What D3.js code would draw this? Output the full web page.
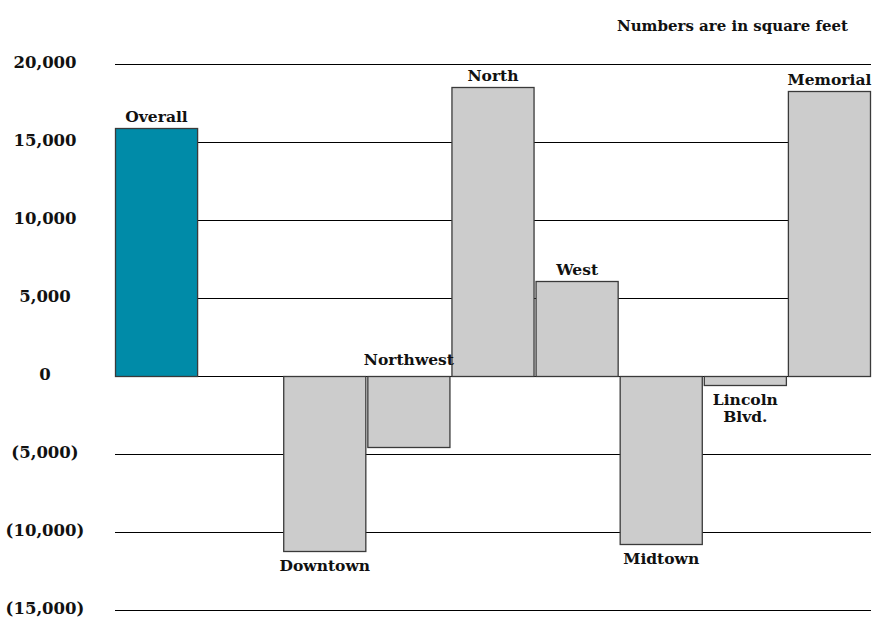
<!DOCTYPE html>
<html>
<head>
<meta charset="utf-8">
<script src="https://cdn.jsdelivr.net/npm/d3@7"></script>
<style>
  body { margin: 0; background: #fff; }
  text { font-family: "DejaVu Serif", serif; font-weight: bold; fill: #111; }
</style>
</head>
<body>
<div id="canvas"></div>
<script>
// data (square feet)
const categories = ["Overall", "Downtown", "Northwest", "North", "West", "Midtown", "Lincoln Blvd.", "Memorial"];
const values = [15900, -11200, -4550, 18500, 6100, -10750, -550, 18250];
const labelSide = ["top", "bottom", "zero", "top", "top", "bottom", "bottom", "top"];
const tickValues = [-15000, -10000, -5000, 0, 5000, 10000, 15000, 20000];

const width = 880;
const height = 617;

const svg = d3.select("#canvas").append("svg")
  .attr("width", width)
  .attr("height", height);

// one empty slot after "Overall"
const slots = [categories[0], "_gap", ...categories.slice(1)];

const x = d3.scaleBand().domain(slots).range([115, 871]).paddingInner(0.012).paddingOuter(0);
const y = d3.scaleLinear().domain([-15000, 20000]).range([610, 64]);

const fmt = (v) => (v < 0 ? `(${d3.format(",")(-v)})` : d3.format(",")(v));

// gridlines
svg.append("g").selectAll("line").data(tickValues).enter()
  .append("line")
  .attr("x1", 115)
  .attr("x2", 871)
  .attr("y1", (d) => Math.round(y(d)) + 0.5)
  .attr("y2", (d) => Math.round(y(d)) + 0.5)
  .attr("stroke", "#000")
  .attr("stroke-width", 1.2);

// tick labels
svg.append("g").selectAll("text").data(tickValues).enter()
  .append("text")
  .attr("x", 45)
  .attr("y", (d) => y(d) + 4)
  .attr("text-anchor", "middle")
  .style("font-size", "16.5px")
  .text(fmt);

const data = categories.map((c, i) => ({ name: c, value: values[i], side: labelSide[i] }));

svg.append("g").selectAll("rect").data(data).enter()
  .append("rect")
  .attr("x", (d) => x(d.name) + 0.5)
  .attr("y", (d) => Math.round(y(Math.max(0, d.value))) + 0.5)
  .attr("width", x.bandwidth() - 1)
  .attr("height", (d) => Math.round(Math.abs(y(d.value) - y(0))))
  .attr("fill", (d, i) => (i === 0 ? "#008ba8" : "#cccccc"))
  .attr("stroke", "#3a3a3a")
  .attr("stroke-width", 1.3);

// bar labels
const labels = svg.append("g").selectAll("text").data(data).enter()
  .append("text")
  .attr("text-anchor", "middle")
  .style("font-size", "15.5px")
  .attr("x", (d) => x(d.name) + x.bandwidth() / 2)
  .attr("y", (d) => {
    if (d.side === "top") return y(d.value) - 6;
    if (d.side === "zero") return y(0) - 11;
    return y(d.value) + 20;
  });

labels.each(function (d) {
  const words = d.name === "Lincoln Blvd." ? ["Lincoln", "Blvd."] : [d.name];
  const t = d3.select(this);
  words.forEach((w, i) => {
    t.append("tspan")
      .attr("x", x(d.name) + x.bandwidth() / 2)
      .attr("dy", i === 0 ? 0 : "1.15em")
      .text(w);
  });
});

svg.append("text")
  .attr("text-anchor", "end")
  .style("font-size", "15px")
  .attr("x", 848)
  .attr("y", 31)
  .text("Numbers are in square feet");
</script>
</body>
</html>
